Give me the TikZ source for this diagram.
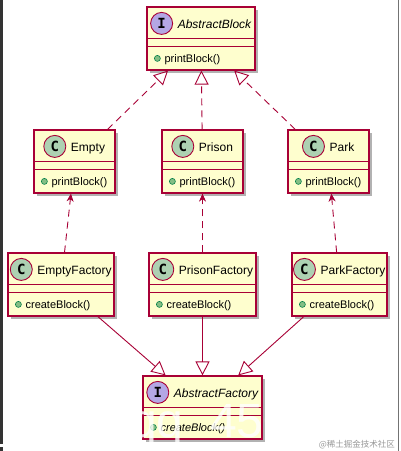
\documentclass[tikz,border=0pt]{standalone}
\usepackage{fontspec}
\setmainfont{Liberation Sans}
\newfontfamily\spotfont{DejaVu Sans Mono}
\newfontfamily\cjkfont{Noto Sans CJK SC}
\usetikzlibrary{arrows.meta,calc,shadows}
\definecolor{umlborder}{HTML}{A80036}
\definecolor{umlfill}{HTML}{FEFECE}
\definecolor{spotC}{HTML}{ADD1B2}
\definecolor{spotI}{HTML}{B4A7E5}
\definecolor{dotfill}{HTML}{84BE84}
\definecolor{dotline}{HTML}{038048}
\tikzset{
 classbox/.style={draw=umlborder, line width=1.2pt, fill=umlfill, inner sep=0pt,
   drop shadow={shadow xshift=3pt, shadow yshift=-3pt, opacity=0.3, fill=black}},
 classline/.style={draw=umlborder, line width=1.2pt},
 titletext/.style={inner sep=0pt, font=\fontsize{12}{14}\selectfont, anchor=base},
 methodtext/.style={inner sep=0pt, font=\fontsize{11}{13}\selectfont, anchor=base west},
 spot/.style={circle, draw=umlborder, line width=0.9pt, minimum size=22pt, inner sep=0pt,
   font=\spotfont\bfseries\fontsize{14}{14}\selectfont},
 mdot/.style={circle, draw=dotline, fill=dotfill, line width=0.6pt, minimum size=6pt, inner sep=0pt},
 conn/.style={draw=umlborder, line width=0.9pt},
 gen/.style={conn, -{Triangle[open, length=14pt, width=14pt]}},
 dep/.style={conn, -{Stealth[length=8pt, width=7pt, inset=2.5pt]}},
 dashline/.style={dash pattern=on 7pt off 5pt},
}
\newcommand\umlclass[8]{%
 \node[classbox, minimum width=#4pt, minimum height=63pt] (#1) at (#2,#3) {};
 \draw[classline] ($(#1.north west)+(0,32)$) -- ($(#1.north east)+(0,32)$);
 \draw[classline] ($(#1.north west)+(0,40)$) -- ($(#1.north east)+(0,40)$);
 \node[titletext] (#1-t) at ($(#1.north)+(0,22)$) {\hspace*{27pt}#7};
 \node[spot, fill=#6] (#1-s) at ($(#1-t.base west)+(11,-5)$) {#5};
 \node[mdot] (#1-d) at ($(#1.north west)+(11,52)$) {};
 \node[methodtext] (#1-m) at ($(#1.north west)+(18,56)$) {#8};
}
\begin{document}
\begin{tikzpicture}[x=1pt,y=-1pt]
\useasboundingbox[fill=white] (0,0) rectangle (400,451);
\draw[line width=2.5pt, black!80] (1.25,0) -- (1.25,444);
\draw[line width=2.5pt, black!80] (1.25,447) -- (1.25,451);
\draw[line width=0.8pt, black!55] (398.5,0) -- (398.5,451);

\umlclass{ab}{201}{38.5}{108}{I}{spotI}{\itshape AbstractBlock}{printBlock()}
\umlclass{empty}{74.5}{161.5}{81}{C}{spotC}{Empty}{printBlock()}
\umlclass{prison}{202.5}{161.5}{81}{C}{spotC}{Prison}{printBlock()}
\umlclass{park}{328.5}{161.5}{81}{C}{spotC}{Park}{printBlock()}
\umlclass{ef}{61}{284.5}{106}{C}{spotC}{EmptyFactory}{createBlock()}
\umlclass{pf}{202.5}{284.5}{107}{C}{spotC}{PrisonFactory}{createBlock()}
\umlclass{kf}{339.5}{284.5}{95}{C}{spotC}{ParkFactory}{createBlock()}
\umlclass{af}{202.5}{407.5}{119}{I}{spotI}{\itshape AbstractFactory}{\itshape createBlock()}

\draw[gen, dashline] (empty) -- (ab);
\draw[gen, dashline] (prison) -- (ab);
\draw[gen, dashline] (park) -- (ab);
\draw[dep, dashline] (ef) -- (empty);
\draw[dep, dashline] (pf) -- (prison);
\draw[dep, dashline] (kf) -- (park);
\draw[gen] (ef) -- (af);
\draw[gen] (pf) -- (af);
\draw[gen] (kf) -- (af);

\node[anchor=base west, inner sep=0pt, text=white, opacity=0.8,
  font=\fontsize{48}{48}\selectfont] (wm) at (130,437) {qq\_450};
\node[anchor=base east, inner sep=0pt, text=black!40,
  font=\cjkfont\fontsize{8.5}{10}\selectfont] (jj) at (395,447) {@稀土掘金技术社区};
\end{tikzpicture}
\end{document}
